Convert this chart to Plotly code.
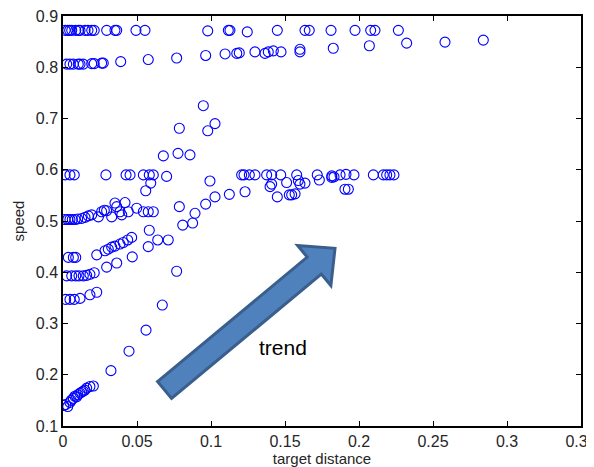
import math
import plotly.graph_objects as go

# ---------------- data ----------------
row_top_x = [0.0015, 0.0032, 0.0045, 0.0059, 0.0086, 0.0105, 0.0115, 0.0149, 0.0169,
             0.0194, 0.0211, 0.0295, 0.0351, 0.0363, 0.0493, 0.0554, 0.0978, 0.1117,
             0.1128, 0.1245, 0.1448, 0.1635, 0.1664, 0.1811, 0.1973, 0.2079, 0.2108, 0.2266]
row_top_y = [0.872, 0.872, 0.872, 0.872, 0.872, 0.872, 0.872, 0.872, 0.872,
             0.872, 0.872, 0.872, 0.872, 0.872, 0.872, 0.872, 0.871, 0.872,
             0.872, 0.869, 0.872, 0.872, 0.872, 0.872, 0.872, 0.872, 0.872, 0.872]

row_hi_x = [0.0025, 0.0047, 0.0070, 0.0103, 0.0115, 0.0137, 0.0194, 0.0211, 0.0261,
            0.0272, 0.0390, 0.0576, 0.0768, 0.0964, 0.1095, 0.1174, 0.1191, 0.1297,
            0.1365, 0.1387, 0.1421, 0.1473, 0.1601, 0.1601, 0.1826, 0.2070, 0.2322,
            0.2581, 0.2840]
row_hi_y = [0.806, 0.806, 0.806, 0.806, 0.806, 0.806, 0.807, 0.807, 0.808,
            0.808, 0.811, 0.815, 0.818, 0.823, 0.826, 0.827, 0.828, 0.830,
            0.827, 0.830, 0.832, 0.830, 0.835, 0.830, 0.837, 0.842, 0.847,
            0.849, 0.853]

row_mid_x = [0.0014, 0.0047, 0.0076, 0.0290, 0.0426, 0.0453, 0.0543, 0.0583, 0.0610,
             0.0700, 0.1207, 0.1223, 0.1259, 0.1297, 0.1376, 0.1410, 0.1471, 0.1579,
             0.1718, 0.1816, 0.1831, 0.1872, 0.1912, 0.1966, 0.2097, 0.2164, 0.2187,
             0.2209, 0.2236]
row_mid_y = [0.590, 0.590, 0.590, 0.590, 0.590, 0.590, 0.590, 0.590, 0.590,
             0.587, 0.590, 0.590, 0.590, 0.590, 0.590, 0.590, 0.590, 0.590,
             0.590, 0.588, 0.586, 0.590, 0.591, 0.590, 0.590, 0.590, 0.590,
             0.590, 0.590]

scatter_x = [0.0948, 0.1027, 0.0978, 0.0786, 0.0678, 0.0777, 0.0858,
             0.0593, 0.0559, 0.0993, 0.1230, 0.1124, 0.1027, 0.0964, 0.0786,
             0.0892, 0.0876, 0.0809, 0.0583, 0.0576, 0.0768, 0.0640, 0.0711,
             0.1410, 0.1399, 0.1511, 0.1590, 0.1635, 0.1732, 0.1816, 0.1448,
             0.1529, 0.1545, 0.1568, 0.1905, 0.1928, 0.1601]
scatter_y = [0.725, 0.690, 0.676, 0.681, 0.627, 0.632, 0.629,
             0.574, 0.559, 0.578, 0.557, 0.552, 0.547, 0.533, 0.528,
             0.515, 0.496, 0.492, 0.482, 0.450, 0.402, 0.463, 0.463,
             0.572, 0.567, 0.575, 0.579, 0.574, 0.580, 0.585, 0.547,
             0.551, 0.551, 0.553, 0.562, 0.562, 0.572]

band50_x = [0.0014, 0.0032, 0.0047, 0.0063, 0.0081, 0.0099, 0.0126, 0.0149, 0.0171,
            0.0194, 0.0239, 0.0261, 0.0279, 0.0295, 0.0329, 0.0351, 0.0363, 0.0385,
            0.0397, 0.0419, 0.0441, 0.0498, 0.0543, 0.0576, 0.0610]
band50_y = [0.503, 0.503, 0.503, 0.503, 0.503, 0.504, 0.505, 0.507, 0.510,
            0.512, 0.508, 0.518, 0.521, 0.520, 0.508, 0.535, 0.528, 0.518,
            0.512, 0.536, 0.518, 0.525, 0.518, 0.518, 0.518]

band43_x = [0.0036, 0.0070, 0.0086, 0.0228, 0.0284, 0.0306, 0.0329, 0.0351, 0.0385,
            0.0407, 0.0437, 0.0464, 0.0295, 0.0363, 0.0468]
band43_y = [0.429, 0.429, 0.429, 0.434, 0.442, 0.445, 0.449, 0.451, 0.455,
            0.458, 0.463, 0.468, 0.410, 0.418, 0.430]

band39_x = [0.0025, 0.0059, 0.0086, 0.0108, 0.0137, 0.0160, 0.0182, 0.0211]
band39_y = [0.393, 0.393, 0.393, 0.393, 0.393, 0.394, 0.396, 0.399]

band35_x = [0.0018, 0.0047, 0.0076, 0.0115, 0.0182, 0.0228, 0.0671]
band35_y = [0.347, 0.347, 0.347, 0.349, 0.356, 0.361, 0.336]

low_x = [0.0561, 0.0446, 0.0324,
         0.0005, 0.0018, 0.0032, 0.0047, 0.0055, 0.0070, 0.0080, 0.0092, 0.0100,
         0.0115, 0.0125, 0.0137, 0.0148, 0.0160, 0.0182, 0.0205]
low_y = [0.287, 0.246, 0.208,
         0.140, 0.142, 0.138, 0.146, 0.150, 0.154, 0.158, 0.157, 0.161,
         0.164, 0.166, 0.168, 0.170, 0.174, 0.177, 0.178]

x_ticks = [0, 0.05, 0.1, 0.15, 0.2, 0.25, 0.3, 0.35]
x_tick_labels = ["0", "0.05", "0.1", "0.15", "0.2", "0.25", "0.3", "0.35"]
y_ticks = [0.1, 0.2, 0.3, 0.4, 0.5, 0.6, 0.7, 0.8, 0.9]
y_tick_labels = ["0.1", "0.2", "0.3", "0.4", "0.5", "0.6", "0.7", "0.8", "0.9"]

arrow_tail = (0.0686, 0.1702)
arrow_tip = (0.1838, 0.4467)
arrow_label = "trend"
arrow_label_pos = (0.1486, 0.254)

# ---------------- figure ----------------
all_x = row_top_x + row_hi_x + row_mid_x + scatter_x + band50_x + band43_x + band39_x + band35_x + low_x
all_y = row_top_y + row_hi_y + row_mid_y + scatter_y + band50_y + band43_y + band39_y + band35_y + low_y

PAGE_OFF = 8  # default body margin of the html page
W, H = 594 - PAGE_OFF, 467 - PAGE_OFF
ML, MR, MT, MB = 63 - PAGE_OFF, 13, 16 - PAGE_OFF, 41
XR = (0, 0.35)
YR = (0.1, 0.9)
PW, PH = W - ML - MR, H - MT - MB
sx = PW / (XR[1] - XR[0])
sy = PH / (YR[1] - YR[0])

FONT = "Liberation Sans, Arial, sans-serif"

fig = go.Figure()
fig.add_trace(go.Scatter(
    x=all_x, y=all_y, mode="markers",
    marker=dict(symbol="circle-open", size=10, color="#0000FF", line=dict(width=1.1, color="#0000FF")),
    showlegend=False, hoverinfo="skip"))

# block arrow computed in pixel space and mapped back to data units
tx, ty = arrow_tail[0] * sx, arrow_tail[1] * sy
hx, hy = arrow_tip[0] * sx, arrow_tip[1] * sy
L = math.hypot(hx - tx, hy - ty)
ux, uy = (hx - tx) / L, (hy - ty) / L
nx, ny = -uy, ux
w, hw, hl = 11.0, 26.0, 27.0
nkx, nky = hx - ux * hl, hy - uy * hl
pts = [
    (tx + nx * w, ty + ny * w),
    (nkx + nx * w, nky + ny * w),
    (nkx + nx * hw, nky + ny * hw),
    (hx, hy),
    (nkx - nx * hw, nky - ny * hw),
    (nkx - nx * w, nky - ny * w),
    (tx - nx * w, ty - ny * w),
]
path = "M " + " L ".join(f"{px / sx:.6f},{py / sy:.6f}" for px, py in pts) + " Z"
fig.add_shape(type="path", path=path, xref="x", yref="y",
              fillcolor="#4F81BD", line=dict(color="#3A5F8C", width=3), layer="above")

fig.add_annotation(x=arrow_label_pos[0], y=arrow_label_pos[1], text=arrow_label,
                   showarrow=False, font=dict(family=FONT, size=21, color="#000000"))

axis_common = dict(
    showline=True, linecolor="#000000", linewidth=1.5, mirror="allticks",
    ticks="inside", ticklen=5, tickwidth=1, tickcolor="#000000",
    showgrid=False, zeroline=False, ticklabeloverflow="allow",
    tickfont=dict(family=FONT, size=16, color="#262626"),
)

fig.update_xaxes(range=list(XR), tickvals=x_ticks, ticktext=x_tick_labels,
                 title=dict(text="target distance", standoff=2,
                            font=dict(family=FONT, size=15, color="#262626")),
                 **axis_common)
fig.update_yaxes(range=list(YR), tickvals=y_ticks, ticktext=y_tick_labels,
                 title=dict(text="speed", standoff=8,
                            font=dict(family=FONT, size=15, color="#262626")),
                 **axis_common)

fig.update_layout(
    width=W, height=H,
    margin=dict(l=ML, r=MR, t=MT, b=MB, autoexpand=False),
    paper_bgcolor="white", plot_bgcolor="white",
)

fig.write_html("out.html")
